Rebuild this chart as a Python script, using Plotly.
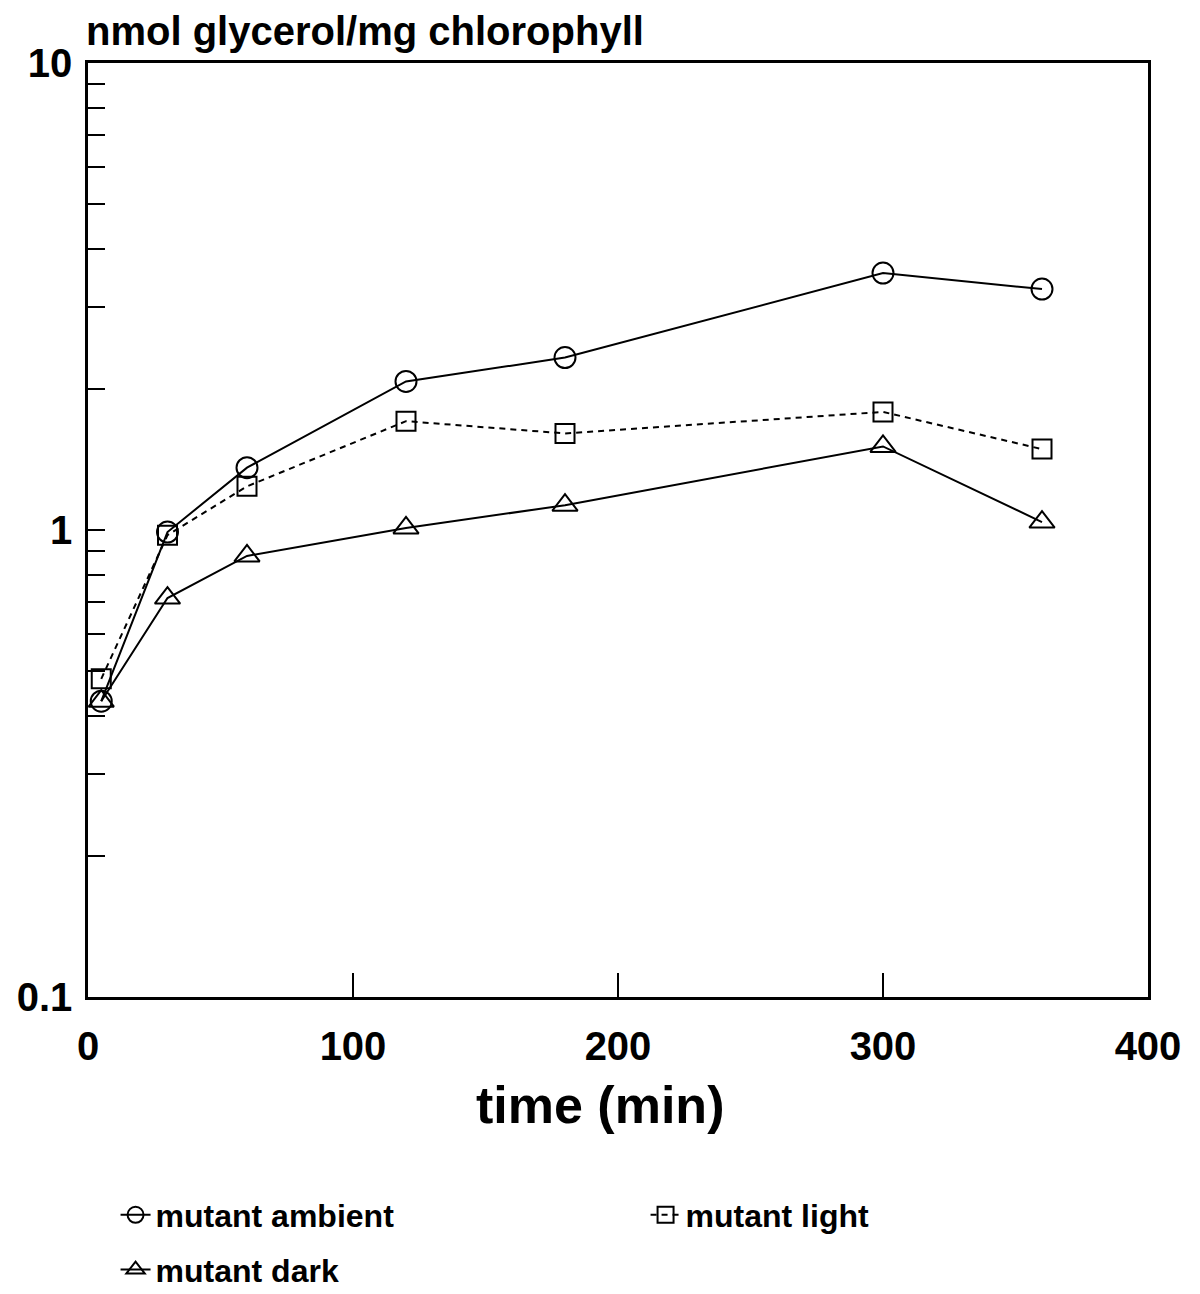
import plotly.graph_objects as go

time_min = [5, 30, 60, 120, 180, 300, 360]
ambient = [0.43, 0.99, 1.36, 2.08, 2.34, 3.55, 3.28]
light = [0.48, 0.975, 1.24, 1.71, 1.61, 1.79, 1.49]
dark = [0.43, 0.715, 0.88, 1.01, 1.13, 1.51, 1.04]

y_tickvals = [0.1, 0.2, 0.3, 0.4, 0.5, 0.6, 0.7, 0.8, 0.9,
              1, 2, 3, 4, 5, 6, 7, 8, 9, 10]
y_ticktext = ["0.1", "", "", "", "", "", "", "", "",
              "1", "", "", "", "", "", "", "", "", "10"]
x_tickvals = [0, 100, 200, 300, 400]
x_ticktext = ["0", "100", "200", "300", "400"]

FONT = "Liberation Sans, Arial, sans-serif"
BLK = "black"


def bold(s):
    return "<b>" + s + "</b>" if s else ""


fig = go.Figure()
fig.add_trace(go.Scatter(
    x=time_min, y=ambient, name=bold("mutant ambient"), mode="lines+markers",
    line=dict(color=BLK, width=2),
    marker=dict(symbol="circle-open", size=21, color=BLK, line=dict(width=2)),
    legend="legend", showlegend=True))
fig.add_trace(go.Scatter(
    x=time_min, y=light, name=bold("mutant light"), mode="lines+markers",
    line=dict(color=BLK, width=2, dash="6px,5px"),
    marker=dict(symbol="square-open", size=19, color=BLK, line=dict(width=2)),
    legend="legend2", showlegend=True))
fig.add_trace(go.Scatter(
    x=time_min, y=dark, name=bold("mutant dark"), mode="lines+markers",
    line=dict(color=BLK, width=2),
    marker=dict(symbol="triangle-up-open", size=22, color=BLK, line=dict(width=2)),
    legend="legend3", showlegend=True))

leg_common = dict(font=dict(family=FONT, size=32, color=BLK),
                  bgcolor="rgba(0,0,0,0)", xanchor="left", yanchor="middle",
                  visible=True)

fig.update_layout(
    width=1192, height=1286,
    showlegend=True,
    paper_bgcolor="white", plot_bgcolor="white",
    margin=dict(l=80, r=52, t=55, b=297, autoexpand=False),
    font=dict(family=FONT, color=BLK),
    legend=dict(x=0.026, y=-0.2334, **leg_common),
    legend2=dict(x=0.526, y=-0.2334, **leg_common),
    legend3=dict(x=0.026, y=-0.292, **leg_common),
    xaxis=dict(range=[0, 400], tickvals=x_tickvals,
               ticktext=[bold(t) for t in x_ticktext],
               ticks="inside", ticklen=24, tickwidth=1.5, tickcolor=BLK,
               showline=True, linewidth=2.5, linecolor=BLK, mirror=True,
               showgrid=False, zeroline=False,
               tickfont=dict(family=FONT, size=40, color=BLK),
               ticklabelstandoff=12),
    yaxis=dict(type="log", range=[-1, 1], tickvals=y_tickvals,
               ticktext=[bold(t) for t in y_ticktext],
               ticks="inside", ticklen=17, tickwidth=2, tickcolor=BLK,
               showline=True, linewidth=2.5, linecolor=BLK, mirror=True,
               showgrid=False, zeroline=False,
               tickfont=dict(family=FONT, size=40, color=BLK),
               ticklabelstandoff=5),
    annotations=[
        dict(text="<b>nmol glycerol/mg chlorophyll</b>", xref="paper", yref="paper",
             x=0, y=1, xanchor="left", yanchor="bottom", xshift=-4, yshift=8,
             showarrow=False, font=dict(family=FONT, size=40, color=BLK)),
        dict(text="<b>time (min)</b>", xref="paper", yref="paper",
             x=0.483, y=-0.1156, xanchor="center", yanchor="middle",
             showarrow=False, font=dict(family=FONT, size=52, color=BLK)),
    ],
)

fig.write_html("out.html")
